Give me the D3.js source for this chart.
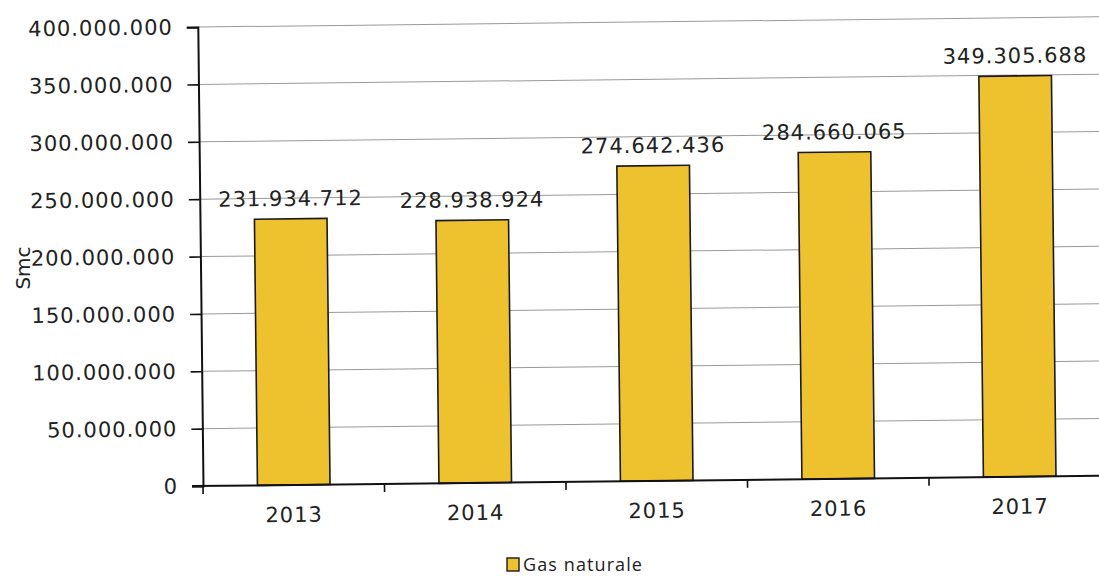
<!DOCTYPE html>
<html>
<head>
<meta charset="utf-8">
<script src="https://cdn.jsdelivr.net/npm/d3@7"></script>
<style>
  html, body { margin: 0; padding: 0; background: #fff; }
  svg { display: block; }
</style>
</head>
<body>
<svg id="chart" width="1099" height="577"></svg>
<script>
// Annual natural gas volumes (Smc)
const years = ["2013", "2014", "2015", "2016", "2017"];
const gasValues = [231934712, 228938924, 274642436, 284660065, 349305688];
const yTicks = [0, 50000000, 100000000, 150000000, 200000000, 250000000, 300000000, 350000000, 400000000];
const seriesName = "Gas naturale";
const yTitle = "Smc";

const W = 1099, H = 577;
const x0 = 203, y0 = 486, yTop = 27, bandW = 181.5;
const fmt = v => d3.format(",")(v).replace(/,/g, ".");

const svg = d3.select("#chart");
const g = svg.append("g").attr("transform", `rotate(-0.65, ${x0}, ${y0})`);

const x = d3.scaleBand().domain(years).range([x0, x0 + bandW * years.length]).paddingInner(0.6).paddingOuter(0.3);
const xb = d3.scaleBand().domain(years).range([x0, x0 + bandW * years.length]);
const y = d3.scaleLinear().domain([0, 400000000]).range([y0, yTop]);

const font = "'DejaVu Sans', Verdana, sans-serif";
const fs = 21, ls = 1.0;

// gridlines
g.append("g").selectAll("line").data(yTicks.slice(1)).join("line")
  .attr("x1", x0).attr("x2", W + 20)
  .attr("y1", d => y(d)).attr("y2", d => y(d))
  .attr("stroke", "#999").attr("stroke-width", 1);

// bars
g.append("g").selectAll("rect").data(years).join("rect")
  .attr("x", (d) => x(d))
  .attr("width", x.bandwidth())
  .attr("y", (d, i) => y(gasValues[i]))
  .attr("height", (d, i) => y0 - y(gasValues[i]))
  .attr("fill", "#eec12e")
  .attr("stroke", "#1a1a1a").attr("stroke-width", 1.6);

// value labels
g.append("g").selectAll("text").data(years).join("text")
  .attr("x", d => x(d) + x.bandwidth() / 2)
  .attr("y", (d, i) => y(gasValues[i]) - 13)
  .attr("text-anchor", "middle")
  .attr("font-family", font).attr("font-size", fs).attr("letter-spacing", ls)
  .attr("fill", "#222")
  .text((d, i) => fmt(gasValues[i]));

// y axis
const yAxis = d3.axisLeft(y).tickValues(yTicks).tickFormat(fmt).tickSize(11).tickPadding(14);
const ya = g.append("g").attr("transform", `translate(${x0},0)`).call(yAxis);
ya.select(".domain").attr("stroke", "#111").attr("stroke-width", 2);
ya.selectAll(".tick line").attr("stroke", "#111").attr("stroke-width", 1.6);
ya.selectAll("text").attr("font-family", font).attr("font-size", fs).attr("letter-spacing", ls).attr("fill", "#222");

// x axis with ticks on band boundaries
const xa = g.append("g").attr("transform", `translate(0,${y0})`);
xa.append("line").attr("x1", x0 - 11).attr("x2", W + 20).attr("y1", 0).attr("y2", 0)
  .attr("stroke", "#111").attr("stroke-width", 2);
const bounds = years.map(d => xb(d)).concat([xb(years[years.length - 1]) + xb.bandwidth()]);
xa.selectAll("line.tk").data(bounds).join("line").attr("class", "tk")
  .attr("x1", d => d).attr("x2", d => d).attr("y1", 0).attr("y2", 8)
  .attr("stroke", "#111").attr("stroke-width", 1.6);
xa.selectAll("text").data(years).join("text")
  .attr("x", d => xb(d) + xb.bandwidth() / 2)
  .attr("y", 37)
  .attr("text-anchor", "middle")
  .attr("font-family", font).attr("font-size", fs).attr("letter-spacing", ls)
  .attr("fill", "#222")
  .text(d => d);

// y title
svg.append("text")
  .attr("transform", "translate(30,268) rotate(-90)")
  .attr("text-anchor", "middle")
  .attr("font-family", font).attr("font-size", 20)
  .attr("fill", "#222")
  .text(yTitle);

// legend
const lg = svg.append("g").attr("transform", "translate(507,558)");
lg.append("rect").attr("x", 0).attr("y", 0).attr("width", 12).attr("height", 13)
  .attr("fill", "#eec12e").attr("stroke", "#1a1a1a").attr("stroke-width", 1.4);
lg.append("text").attr("x", 16).attr("y", 13)
  .attr("font-family", "'Open Sans', Lato, sans-serif").attr("font-size", 18).attr("letter-spacing", 1.1)
  .attr("fill", "#222").text(seriesName);
</script>
</body>
</html>
